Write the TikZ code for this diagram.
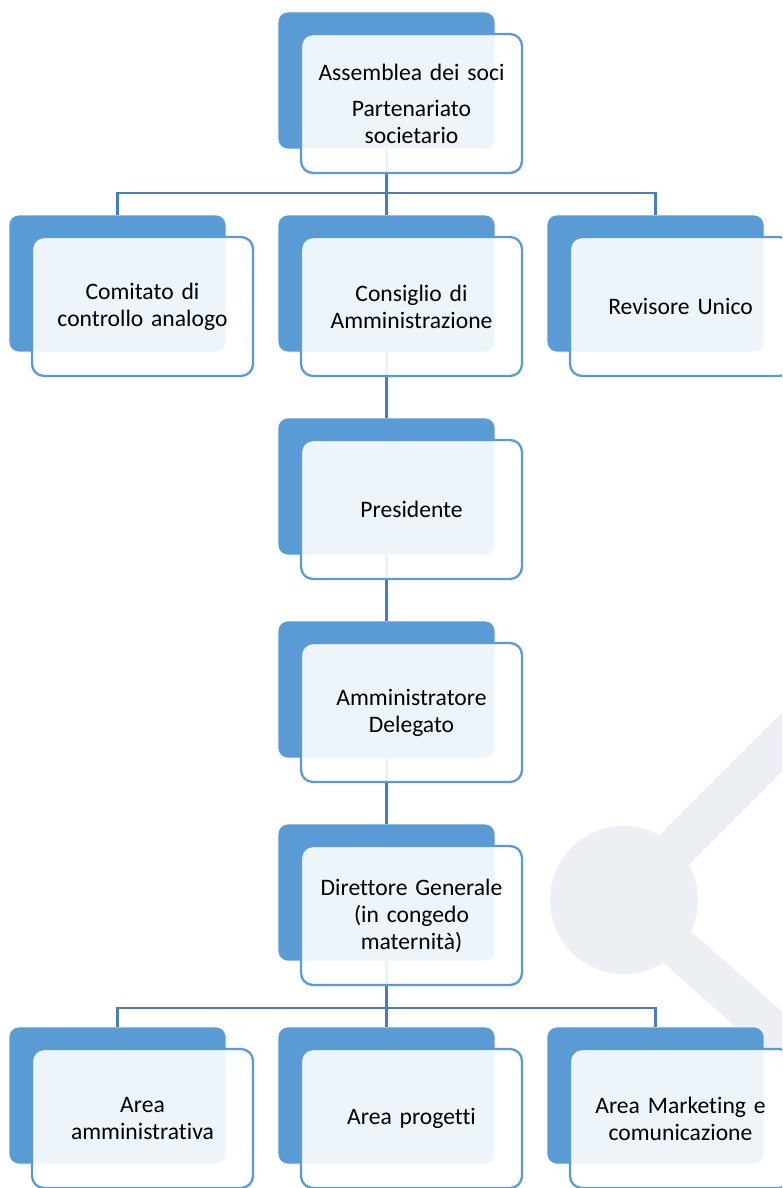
\documentclass[tikz,border=0pt]{standalone}
\usepackage{fontspec}
\setmainfont[Ligatures=NoCommon]{Carlito}
\usetikzlibrary{calc}
\definecolor{backblue}{HTML}{5B9BD5}
\definecolor{lineblue}{HTML}{4A7EBB}
\definecolor{wmgray}{HTML}{ECEFF4}
\tikzset{
  backbox/.style={rectangle, rounded corners=10pt, fill=backblue, draw=white, line width=0.6pt,
    minimum width=217pt, minimum height=137pt, inner sep=0pt},
  frontbox/.style={rectangle, rounded corners=12pt, fill=white, fill opacity=0.9, text opacity=1,
    draw=backblue, line width=2.3pt, draw opacity=1,
    minimum width=221pt, minimum height=139pt, inner sep=2pt, align=center,
    text width=214pt, font=\fontsize{23.6}{27}\selectfont, text=black},
  conn/.style={draw=lineblue, line width=2.6pt},
  wm/.style={wmgray}
}
\begin{document}
\begin{tikzpicture}[x=1pt,y=-1pt]
\clip (0,0) rectangle (782,1188);
\fill[white] (0,0) rectangle (782,1188);
% watermark
\fill[wm] (624,900) circle (74);
\draw[wm, line width=42pt] (624,900) -- (874,650);
\draw[wm, line width=42pt] (624,900) -- (874,1121);
% back boxes
\node[backbox] (b0)  at (386.5,80.5) {};
\node[backbox] (b1a) at (117.5,283.5) {};
\node[backbox] (b1b) at (386.5,283.5) {};
\node[backbox] (b1c) at (655.5,283.5) {};
\node[backbox] (b2)  at (386.5,486.5) {};
\node[backbox] (b3)  at (386.5,689.5) {};
\node[backbox] (b4)  at (386.5,892.5) {};
\node[backbox] (b5a) at (117.5,1095.5) {};
\node[backbox] (b5b) at (386.5,1095.5) {};
\node[backbox] (b5c) at (655.5,1095.5) {};
% connectors
\coordinate (j0) at (386.5,193);
\coordinate (j4) at (386.5,1008);
\draw[conn] (b0.south) -- (j0) -| (b1a.north);
\draw[conn] (j0) -| (b1c.north);
\draw[conn] (j0) -- (b1b.north);
\draw[conn] (b1b.south) -- (b2.north);
\draw[conn] (b2.south) -- (b3.north);
\draw[conn] (b3.south) -- (b4.north);
\draw[conn] (b4.south) -- (j4) -| (b5a.north);
\draw[conn] (j4) -| (b5c.north);
\draw[conn] (j4) -- (b5b.north);
% front boxes
\node[frontbox] (f0)  at ($(b0)+(25,23)$) {Assemblea dei soci\\[9pt]Partenariato\\societario};
\node[frontbox] (f1a) at ($(b1a)+(25,23)$) {Comitato di\\controllo analogo};
\node[frontbox] (f1b) at ($(b1b)+(25,23)$) {Consiglio di\\Amministrazione};
\node[frontbox] (f1c) at ($(b1c)+(25,23)$) {Revisore Unico};
\node[frontbox] (f2)  at ($(b2)+(25,23)$) {Presidente};
\node[frontbox] (f3)  at ($(b3)+(25,23)$) {Amministratore\\Delegato};
\node[frontbox] (f4)  at ($(b4)+(25,23)$) {Direttore Generale\\(in congedo\\maternità)};
\node[frontbox] (f5a) at ($(b5a)+(25,23)$) {Area\\amministrativa};
\node[frontbox] (f5b) at ($(b5b)+(25,23)$) {Area progetti};
\node[frontbox] (f5c) at ($(b5c)+(25,23)$) {Area Marketing e\\comunicazione};
\end{tikzpicture}
\end{document}
